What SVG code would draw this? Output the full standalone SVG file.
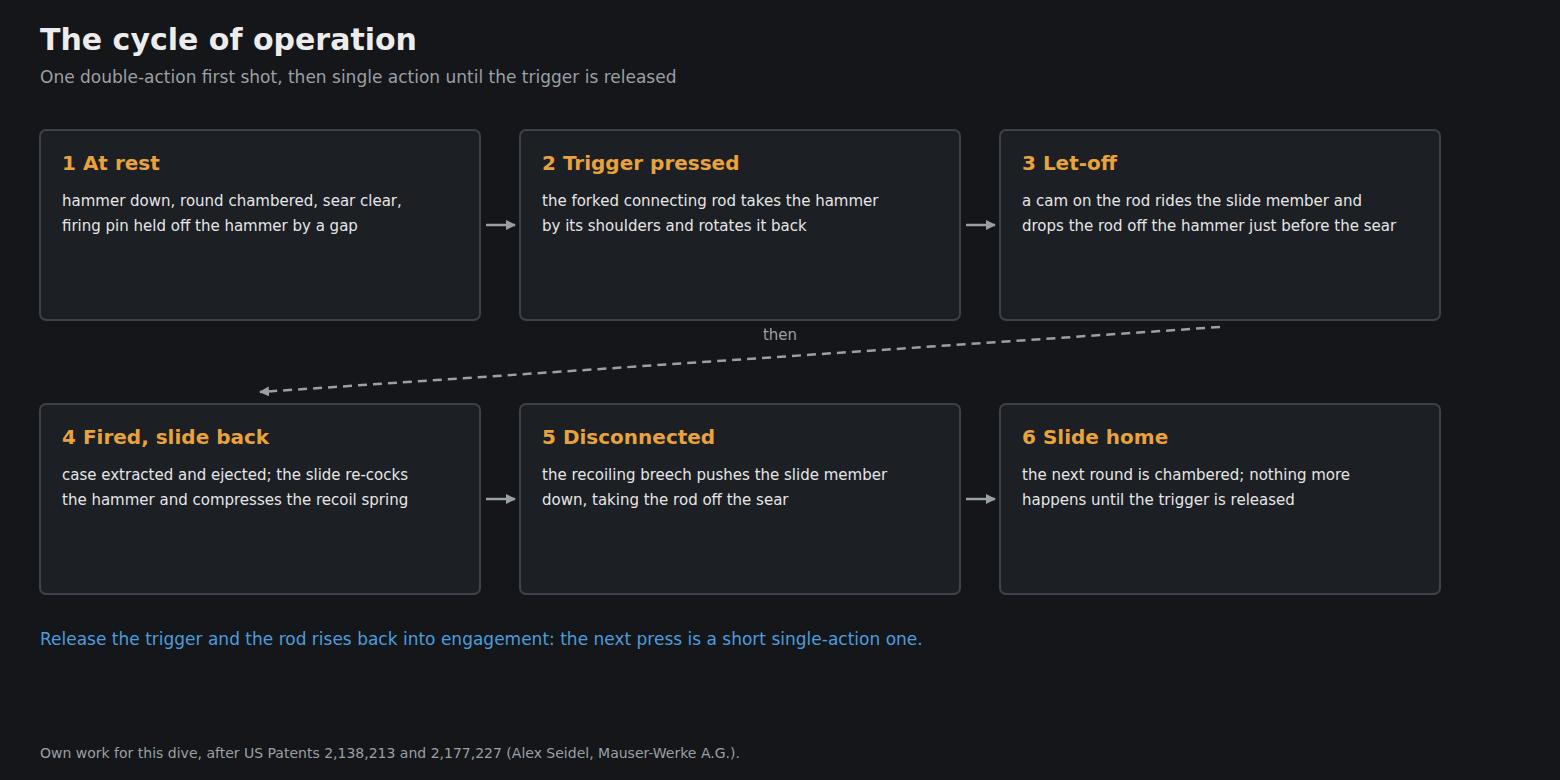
<svg xmlns="http://www.w3.org/2000/svg" width="1560" height="780" viewBox="0 0 1560 780">
<defs>
<marker id="ah" markerWidth="10" markerHeight="10" refX="9" refY="5" orient="auto" markerUnits="userSpaceOnUse"><path d="M0,0 L10,5 L0,10 z" fill="#9aa0a6"/></marker>
<style>
text{font-family:"DejaVu Sans",sans-serif}
.box{fill:#1c1f24;stroke:#3d424a;stroke-width:2}
.h{fill:#e8a33d;font-size:20px;font-weight:bold}
.b{fill:#e6e6e6;font-size:15px}
.c{stroke:#9aa0a6;stroke-width:2.5;fill:none}
</style>
</defs>
<rect width="1560" height="780" fill="#151619"/>
<text x="40" y="50" font-size="30" font-weight="bold" fill="#ececec">The cycle of operation</text>
<text x="40" y="83" font-size="17" fill="#9aa0a6">One double-action first shot, then single action until the trigger is released</text>
<g id="n1"><rect class="box" x="40" y="130" width="440" height="190" rx="6"/><text class="h" x="62" y="170">1 At rest</text><text class="b" x="62" y="206">hammer down, round chambered, sear clear,</text><text class="b" x="62" y="231">firing pin held off the hammer by a gap</text></g>
<g id="n2"><rect class="box" x="520" y="130" width="440" height="190" rx="6"/><text class="h" x="542" y="170">2 Trigger pressed</text><text class="b" x="542" y="206">the forked connecting rod takes the hammer</text><text class="b" x="542" y="231">by its shoulders and rotates it back</text></g>
<g id="n3"><rect class="box" x="1000" y="130" width="440" height="190" rx="6"/><text class="h" x="1022" y="170">3 Let-off</text><text class="b" x="1022" y="206">a cam on the rod rides the slide member and</text><text class="b" x="1022" y="231">drops the rod off the hammer just before the sear</text></g>
<g id="n4"><rect class="box" x="40" y="404" width="440" height="190" rx="6"/><text class="h" x="62" y="444">4 Fired, slide back</text><text class="b" x="62" y="480">case extracted and ejected; the slide re-cocks</text><text class="b" x="62" y="505">the hammer and compresses the recoil spring</text></g>
<g id="n5"><rect class="box" x="520" y="404" width="440" height="190" rx="6"/><text class="h" x="542" y="444">5 Disconnected</text><text class="b" x="542" y="480">the recoiling breech pushes the slide member</text><text class="b" x="542" y="505">down, taking the rod off the sear</text></g>
<g id="n6"><rect class="box" x="1000" y="404" width="440" height="190" rx="6"/><text class="h" x="1022" y="444">6 Slide home</text><text class="b" x="1022" y="480">the next round is chambered; nothing more</text><text class="b" x="1022" y="505">happens until the trigger is released</text></g>
<g id="connectors">
<line class="c" x1="486" y1="225" x2="515" y2="225" marker-end="url(#ah)"/>
<line class="c" x1="966" y1="225" x2="995" y2="225" marker-end="url(#ah)"/>
<line class="c" x1="486" y1="499" x2="515" y2="499" marker-end="url(#ah)"/>
<line class="c" x1="966" y1="499" x2="995" y2="499" marker-end="url(#ah)"/>
<line class="c" x1="1220" y1="327" x2="260" y2="392" stroke-dasharray="9,6" marker-end="url(#ah)"/>
<text x="780" y="340" font-size="15" fill="#9aa0a6" text-anchor="middle">then</text>
</g>
<text x="40" y="645" font-size="17" fill="#4a9ede">Release the trigger and the rod rises back into engagement: the next press is a short single-action one.</text>
<text x="40" y="758" font-size="14" fill="#9aa0a6">Own work for this dive, after US Patents 2,138,213 and 2,177,227 (Alex Seidel, Mauser-Werke A.G.).</text>
</svg>
